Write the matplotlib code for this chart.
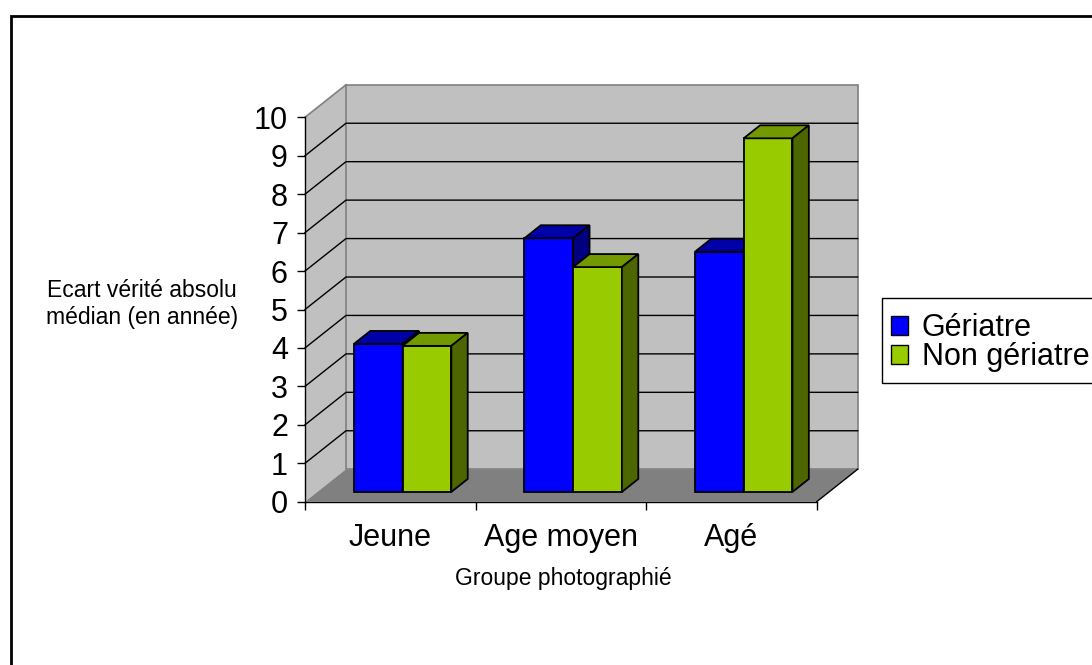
import matplotlib
matplotlib.use('Agg')
import matplotlib.pyplot as plt
from matplotlib.patches import Polygon, Rectangle, Patch

plt.rcParams['font.family'] = ['Liberation Sans', 'DejaVu Sans']

# ---- data ----
categories = ['Jeune', 'Age moyen', 'Agé']
series_names = ['Gériatre', 'Non gériatre']
geriatre = [3.85, 6.6, 6.25]
non_geriatre = [3.8, 5.85, 9.2]
y_ticks = list(range(0, 11))
x_title = 'Groupe photographié'
y_title = 'Ecart vérité absolu\nmédian (en année)'

# ---- styles ----
front_colors = ['#0000FF', '#99CC00']
top_colors = ['#0000A8', '#739900']
side_colors = ['#000080', '#4D6600']

W, H = 1092, 665
fig = plt.figure(figsize=(W / 100, H / 100), dpi=100)

# front plane of the plot area in pixels
px_left, px_right, px_bottom, px_top = 305, 816.7, 501.7, 117.3
ax = fig.add_axes([px_left / W, 1 - px_bottom / H,
                   (px_right - px_left) / W, (px_bottom - px_top) / H])
n_cat = len(categories)
ymax = y_ticks[-1]
ax.set_xlim(0, n_cat)
ax.set_ylim(0, ymax)
ax.patch.set_visible(False)

# oblique depth offset (full depth) expressed in data units
DX = 41 / ((px_right - px_left) / n_cat)
DY = 32.5 / ((px_bottom - px_top) / ymax)


def P(x, y, d):
    return (x + d * DX, y + d * DY)


def poly(pts, fc, ec='none', lw=0, z=1):
    ax.add_patch(Polygon(pts, closed=True, fc=fc, ec=ec, lw=lw,
                         zorder=z, clip_on=False, joinstyle='miter'))


# walls and floor
poly([P(0, 0, 0), P(0, 0, 1), P(0, ymax, 1), P(0, ymax, 0)], '#C0C0C0', z=1)
poly([P(0, 0, 1), P(n_cat, 0, 1), P(n_cat, ymax, 1), P(0, ymax, 1)],
     '#C0C0C0', ec='#808080', lw=1.2, z=1)
poly([P(0, 0, 0), P(n_cat, 0, 0), P(n_cat, 0, 1), P(0, 0, 1)], '#808080', z=1.1)
xs, ys = zip(P(0, ymax, 0), P(0, ymax, 1))
ax.plot(xs, ys, color='#808080', lw=1.2, clip_on=False, zorder=1.2)
xs, ys = zip(P(n_cat, 0, 0), P(n_cat, 0, 1))
ax.plot(xs, ys, color='black', lw=1, clip_on=False, zorder=1.2)

# gridlines (left wall + back wall)
for v in y_ticks[1:-1]:
    xs, ys = zip(P(0, v, 0), P(0, v, 1), P(n_cat, v, 1))
    ax.plot(xs, ys, color='black', lw=1, clip_on=False, zorder=1.3)

# bars
w = 1 / 3.5
d0, d1 = 0.3, 0.7
z = 3
for i in range(n_cat):
    for j, vals in enumerate([geriatre, non_geriatre]):
        h = vals[i]
        x0 = i + 0.5 - w + j * w
        x1 = x0 + w
        poly([P(x0, 0, d0), P(x1, 0, d0), P(x1, h, d0), P(x0, h, d0)],
             front_colors[j], ec='black', lw=1.3, z=z)
        poly([P(x0, h, d0), P(x1, h, d0), P(x1, h, d1), P(x0, h, d1)],
             top_colors[j], ec='black', lw=1.3, z=z)
        poly([P(x1, 0, d0), P(x1, 0, d1), P(x1, h, d1), P(x1, h, d0)],
             side_colors[j], ec='black', lw=1.3, z=z)
        z += 1

# axes lines and ticks
for s in ['top', 'right']:
    ax.spines[s].set_visible(False)
for s in ['left', 'bottom']:
    ax.spines[s].set_color('black')
    ax.spines[s].set_linewidth(1)
ax.set_yticks(y_ticks)
ax.set_yticklabels([str(t) for t in y_ticks])
ax.tick_params(axis='y', direction='out', length=5.8, width=1, pad=6.5,
               labelsize=22, colors='black')
ax.set_xticks(range(n_cat + 1))
ax.set_xticklabels([])
ax.set_xticks([i + 0.5 for i in range(n_cat)], minor=True)
ax.set_xticklabels(categories, minor=True)
ax.tick_params(axis='x', which='major', direction='out', length=5.8, width=1)
ax.tick_params(axis='x', which='minor', length=0, pad=15.5, labelsize=22)

# titles
fig.text(563 / W, 1 - 578 / H, x_title, ha='center', va='center', fontsize=16.5)
fig.text(142 / W, 1 - 304 / H, y_title, ha='center', va='center', fontsize=16.5,
         linespacing=1.25, multialignment='center')

# legend (entries) and its box, which runs past the right edge of the image
handles = [Patch(fc=c, ec='black', lw=1) for c in front_colors]
leg = fig.legend(handles=handles, labels=series_names, loc='upper left',
                 bbox_to_anchor=(882 / W, 1 - 304 / H), fontsize=22,
                 frameon=False, borderpad=0.3, labelspacing=-0.03,
                 handlelength=0.55, handleheight=0.55, handletextpad=0.45,
                 borderaxespad=0)
fig.add_artist(Rectangle((882 / W, 1 - 383 / H), 0.2, 85 / H,
                         transform=fig.transFigure, fill=False,
                         ec='black', lw=1))

# outer chart frame (right/bottom edges fall outside the image)
fig.add_artist(Rectangle((11 / W, -0.1), 1.2, 1 - 16 / H + 0.1,
                         transform=fig.transFigure, fill=False,
                         ec='black', lw=2))

fig.savefig('out.png', dpi=100)
